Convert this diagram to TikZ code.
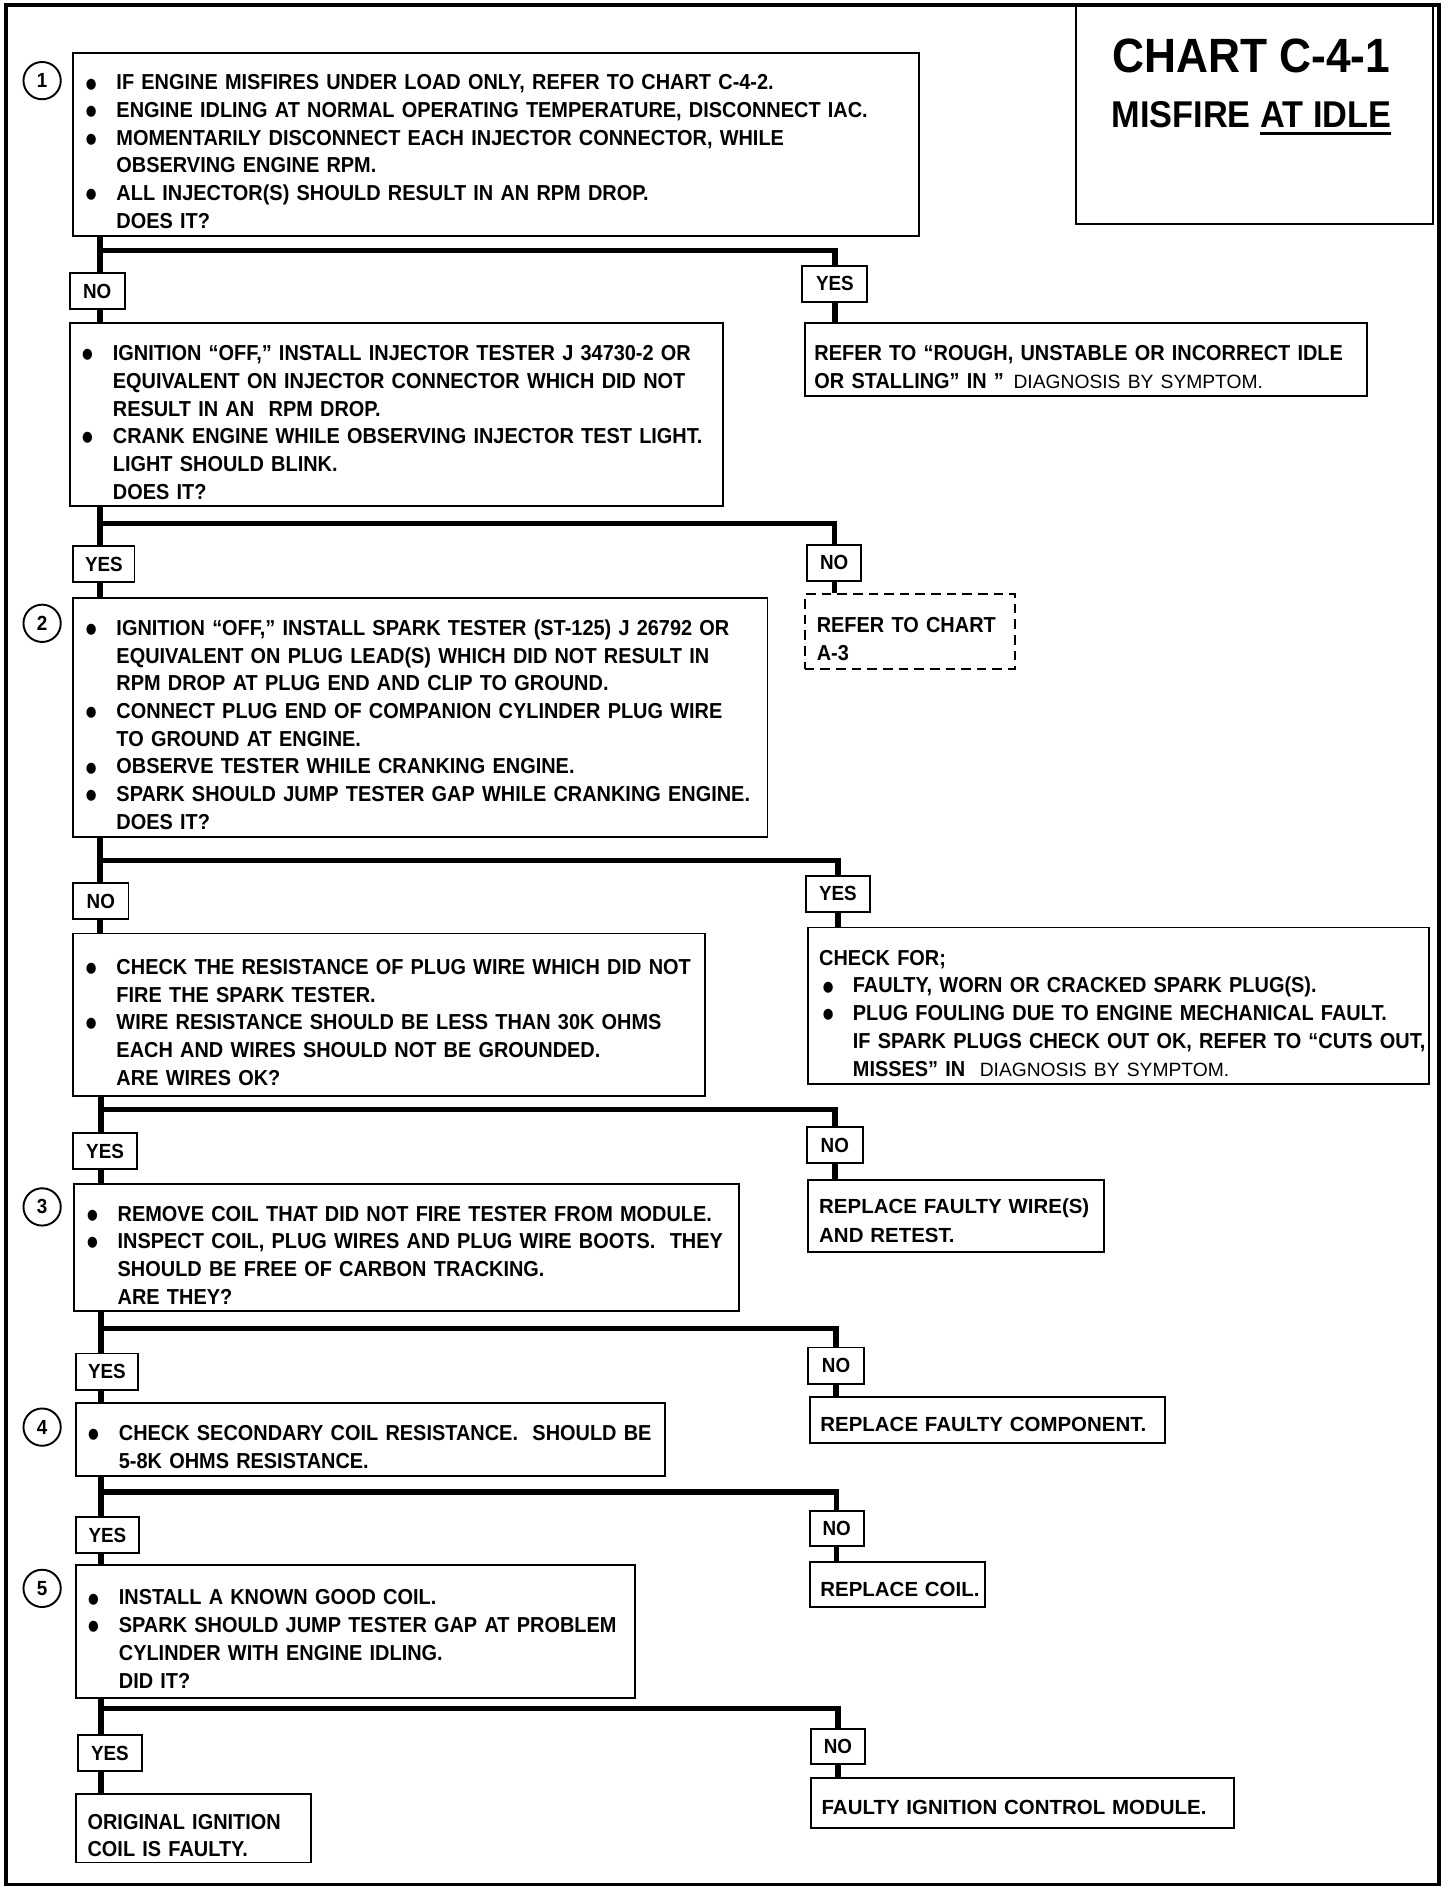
\documentclass[tikz,border=0pt]{standalone}
\usepackage{fontspec}
\setmainfont{Liberation Sans}
\newfontfamily\condf{Liberation Sans}[FakeStretch=0.92]
\newfontfamily\plainf{Liberation Sans}
\newfontfamily\dotf{DejaVu Sans}[FakeStretch=0.85]
\newcommand\bdot{\raisebox{1.5pt}{\dotf\fontsize{12}{12}\selectfont ●}}
\newcommand\bul{\makebox[26pt][l]{\hspace*{0.5pt}\bdot}}
\newcommand\ind{\hspace*{26pt}}
\newcommand\tp{\rule{0pt}{25pt}}
\newcommand\tq{\rule{0pt}{20pt}}
\newcommand\thin[1]{{\plainf\mdseries\fontsize{16}{23}\selectfont #1}}
\newcommand\ulx[1]{\vtop{\hbox{#1}\kern4pt\hrule height 2.2pt}}
\begin{document}
\begin{tikzpicture}[x=1pt,y=-1pt,
  box/.style={draw, line width=1.6pt, anchor=north west, inner xsep=10pt, inner ysep=4pt, align=left,
    font=\condf\bfseries\fontsize{18}{23}\selectfont},
  wbox/.style={box, inner xsep=9pt, font=\plainf\bfseries\fontsize{17}{24}\selectfont},
  lab/.style={draw, line width=1.6pt, anchor=north west, inner sep=0pt,
    font=\condf\bfseries\fontsize{17}{20}\selectfont},
  circ/.style={circle, draw, line width=1.6pt, minimum size=31pt, inner sep=0pt,
    font=\condf\bfseries\fontsize{17}{20}\selectfont},
  conn/.style={line width=4.5pt, line join=miter},
  title/.style={anchor=base, font=\condf\bfseries\fontsize{#1}{#1}\selectfont}
]
\useasboundingbox (0,0) rectangle (1210,1574);
\draw[line width=3pt] (5,4) rectangle (1196,1566);

% title
\node[draw, line width=2pt, anchor=north west, minimum width=297pt, minimum height=182pt] (tbox) at (893,3) {};
\node[title=40] (t1) at (1040,60) {CHART C-4-1};
\node[title=31] (t2) at (1040,106) {MISFIRE \ulx{AT IDLE}};

% step circles
\node[circ] (c1) at (35,67) {1};
\node[circ] (c2) at (35,518) {2};
\node[circ] (c3) at (35,1003) {3};
\node[circ] (c4) at (35,1186) {4};
\node[circ] (c5) at (35,1320) {5};

% main boxes
\node[box, minimum width=703pt, minimum height=152pt, text width=683pt] (b1) at (60,43) {%
\tp\bul IF ENGINE MISFIRES UNDER LOAD ONLY, REFER TO CHART C-4-2.\\
\bul\mbox{ENGINE IDLING AT NORMAL OPERATING TEMPERATURE, DISCONNECT IAC.}\\
\bul MOMENTARILY DISCONNECT EACH INJECTOR CONNECTOR, WHILE\\
\ind OBSERVING ENGINE RPM.\\
\bul ALL INJECTOR(S) SHOULD RESULT IN AN RPM DROP.\\
\ind DOES IT?};

\node[box, minimum width=543pt, minimum height=152pt, text width=523pt] (b2) at (57,268) {%
\tp\bul\mbox{IGNITION “OFF,” INSTALL INJECTOR TESTER J 34730-2 OR}\\
\ind\mbox{EQUIVALENT ON INJECTOR CONNECTOR WHICH DID NOT}\\
\ind RESULT IN AN\ \ RPM DROP.\\
\bul\mbox{CRANK ENGINE WHILE OBSERVING INJECTOR TEST LIGHT.}\\
\ind LIGHT SHOULD BLINK.\\
\ind DOES IT?};

\node[box, minimum width=577pt, minimum height=199pt, text width=557pt] (b3) at (60,496) {%
\tp\bul\mbox{IGNITION “OFF,” INSTALL SPARK TESTER (ST-125) J 26792 OR}\\
\ind\mbox{EQUIVALENT ON PLUG LEAD(S) WHICH DID NOT RESULT IN}\\
\ind RPM DROP AT PLUG END AND CLIP TO GROUND.\\
\bul\mbox{CONNECT PLUG END OF COMPANION CYLINDER PLUG WIRE}\\
\ind TO GROUND AT ENGINE.\\
\bul OBSERVE TESTER WHILE CRANKING ENGINE.\\
\bul\mbox{SPARK SHOULD JUMP TESTER GAP WHILE CRANKING ENGINE.}\\
\ind DOES IT?};

\node[box, minimum width=525pt, minimum height=135pt, text width=505pt] (b4) at (60,775) {%
\tp\bul\mbox{CHECK THE RESISTANCE OF PLUG WIRE WHICH DID NOT}\\
\ind FIRE THE SPARK TESTER.\\
\bul\mbox{WIRE RESISTANCE SHOULD BE LESS THAN 30K OHMS}\\
\ind EACH AND WIRES SHOULD NOT BE GROUNDED.\\
\ind ARE WIRES OK?};

\node[box, minimum width=552pt, minimum height=106pt, text width=532pt] (b5) at (61,983) {%
\tp\bul\mbox{REMOVE COIL THAT DID NOT FIRE TESTER FROM MODULE.}\\
\bul\mbox{INSPECT COIL, PLUG WIRES AND PLUG WIRE BOOTS.\ \ THEY}\\
\ind SHOULD BE FREE OF CARBON TRACKING.\\
\ind ARE THEY?};

\node[box, minimum width=490pt, minimum height=61pt, text width=470pt] (b6) at (62,1165) {%
\tp\bul\mbox{CHECK SECONDARY COIL RESISTANCE.\ \ SHOULD BE}\\
\ind 5-8K OHMS RESISTANCE.};

\node[box, minimum width=465pt, minimum height=110pt, text width=445pt] (b7) at (62,1300) {%
\tp\bul INSTALL A KNOWN GOOD COIL.\\
\bul\mbox{SPARK SHOULD JUMP TESTER GAP AT PROBLEM}\\
\ind CYLINDER WITH ENGINE IDLING.\\
\ind DID IT?};

\node[box, minimum width=196pt, minimum height=57pt, text width=176pt] (b8) at (62,1490) {%
\tp ORIGINAL IGNITION\\
COIL IS FAULTY.};

% right result boxes
\node[box, inner xsep=8pt, minimum width=467pt, minimum height=60pt, text width=451pt] (r1) at (668,268) {%
\tp\mbox{REFER TO “ROUGH, UNSTABLE OR INCORRECT IDLE}\\
OR STALLING” IN ”\hspace{8pt}\thin{DIAGNOSIS BY SYMPTOM.}};

\node[box, dashed, dash pattern=on 8pt off 5pt, minimum width=175pt, minimum height=62pt, text width=155pt] (r2) at (668,493) {%
\tp REFER TO CHART\\
A-3};

\node[box, inner xsep=9pt, minimum width=516pt, minimum height=130pt, text width=498pt] (r3) at (671,770) {%
\tp CHECK FOR;\\
\hspace*{3pt}\makebox[25pt][l]{\bdot}FAULTY, WORN OR CRACKED SPARK PLUG(S).\\
\hspace*{3pt}\makebox[25pt][l]{\bdot}\mbox{PLUG FOULING DUE TO ENGINE MECHANICAL FAULT.}\\
\hspace*{28pt}\mbox{IF SPARK PLUGS CHECK OUT OK, REFER TO “CUTS OUT,}\\
\hspace*{28pt}\mbox{MISSES” IN\hspace{12pt}\thin{DIAGNOSIS BY SYMPTOM.}}};

\node[wbox, minimum width=246pt, minimum height=60pt, text width=228pt] (r4) at (671,980) {%
\tq REPLACE FAULTY WIRE(S)\\
AND RETEST.};
\node[wbox, minimum width=295pt, minimum height=38pt, text width=277pt] (r5) at (672,1160) {\tq\mbox{REPLACE FAULTY COMPONENT.}};
\node[wbox, minimum width=146pt, minimum height=38pt, text width=128pt] (r6) at (672,1297) {\tq\mbox{REPLACE COIL.}};
\node[wbox, minimum width=352pt, minimum height=41pt, text width=334pt] (r7) at (673,1477) {\tq\mbox{FAULTY IGNITION CONTROL MODULE.}};

% YES / NO labels
\node[lab, minimum width=46pt, minimum height=30pt] (ln1) at (57,226) {NO};
\node[lab, minimum width=54pt, minimum height=30pt] (ly1) at (666,220) {YES};
\node[lab, minimum width=51pt, minimum height=30pt] (ly2) at (60,453) {YES};
\node[lab, minimum width=45pt, minimum height=30pt] (ln2) at (670,452) {NO};
\node[lab, minimum width=46pt, minimum height=30pt] (ln3) at (60,733) {NO};
\node[lab, minimum width=53pt, minimum height=30pt] (ly3) at (669,727) {YES};
\node[lab, minimum width=53pt, minimum height=30pt] (ly4) at (60,941) {YES};
\node[lab, minimum width=46pt, minimum height=30pt] (ln4) at (670,936) {NO};
\node[lab, minimum width=52pt, minimum height=30pt] (ly5) at (62,1124) {YES};
\node[lab, minimum width=46pt, minimum height=30pt] (ln5) at (671,1119) {NO};
\node[lab, minimum width=53pt, minimum height=30pt] (ly6) at (62,1260) {YES};
\node[lab, minimum width=45pt, minimum height=29pt] (ln6) at (672,1255) {NO};
\node[lab, minimum width=53pt, minimum height=30pt] (ly7) at (64,1441) {YES};
\node[lab, minimum width=45pt, minimum height=29pt] (ln7) at (673,1436) {NO};

% junction points
\coordinate (j1) at (83,208);
\coordinate (j2) at (83,435);
\coordinate (j3) at (83,715);
\coordinate (j4) at (84,922);
\coordinate (j5) at (84,1104);
\coordinate (j6) at (84,1240);
\coordinate (j7) at (84,1420);

% connectors
\draw[conn] (b1.south -| j1) -- (ln1.north -| j1);
\draw[conn] (j1) -- (j1 -| ly1) -- (ly1.north);
\draw[conn] (ln1.south -| j1) -- (b2.north -| j1);
\draw[conn] (ly1.south) -- (r1.north -| ly1);

\draw[conn] (b2.south -| j2) -- (ly2.north -| j2);
\draw[conn] (j2) -- (j2 -| ln2) -- (ln2.north);
\draw[conn] (ly2.south -| j2) -- (b3.north -| j2);
\draw[conn] (ln2.south) -- (r2.north -| ln2);

\draw[conn] (b3.south -| j3) -- (ln3.north -| j3);
\draw[conn] (j3) -- (j3 -| ly3) -- (ly3.north);
\draw[conn] (ln3.south -| j3) -- (b4.north -| j3);
\draw[conn] (ly3.south) -- (r3.north -| ly3);

\draw[conn] (b4.south -| j4) -- (ly4.north -| j4);
\draw[conn] (j4) -- (j4 -| ln4) -- (ln4.north);
\draw[conn] (ly4.south -| j4) -- (b5.north -| j4);
\draw[conn] (ln4.south) -- (r4.north -| ln4);

\draw[conn] (b5.south -| j5) -- (ly5.north -| j5);
\draw[conn] (j5) -- (j5 -| ln5) -- (ln5.north);
\draw[conn] (ly5.south -| j5) -- (b6.north -| j5);
\draw[conn] (ln5.south) -- (r5.north -| ln5);

\draw[conn] (b6.south -| j6) -- (ly6.north -| j6);
\draw[conn] (j6) -- (j6 -| ln6) -- (ln6.north);
\draw[conn] (ly6.south -| j6) -- (b7.north -| j6);
\draw[conn] (ln6.south) -- (r6.north -| ln6);

\draw[conn] (b7.south -| j7) -- (ly7.north -| j7);
\draw[conn] (j7) -- (j7 -| ln7) -- (ln7.north);
\draw[conn] (ly7.south -| j7) -- (b8.north -| j7);
\draw[conn] (ln7.south) -- (r7.north -| ln7);
\end{tikzpicture}
\end{document}
